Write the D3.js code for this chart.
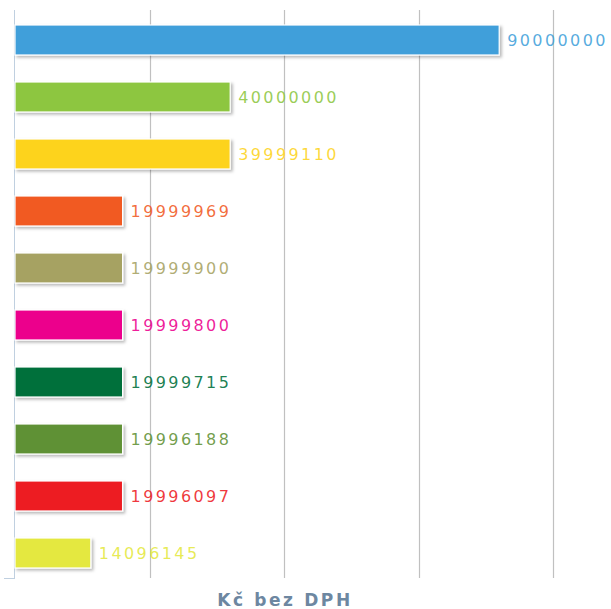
<!DOCTYPE html>
<html>
<head>
<meta charset="utf-8">
<script src="https://cdn.jsdelivr.net/npm/d3@7"></script>
<style>
  body { margin: 0; background: #fff; }
  svg { display: block; }
  .val { font-family: "DejaVu Sans", Verdana, sans-serif; font-size: 16px; letter-spacing: 2.4px; }
  .title { font-family: "DejaVu Sans", Verdana, sans-serif; font-size: 17px; font-weight: bold; fill: #6d87a1; letter-spacing: 2.6px; }
</style>
</head>
<body>
<script>
// bars, top to bottom
var ranks = ['1', '2', '3', '4', '5', '6', '7', '8', '9', '10'];
var values = [90000000, 40000000, 39999110, 19999969, 19999900, 19999800, 19999715, 19996188, 19996097, 14096145];
var colors = ['#419fda', '#8dc63f', '#fdd31d', '#f15a24', '#a6a262', '#ec008c', '#006f3b', '#5f9134', '#ed1c24', '#e4e840'];
var tickValues = [0, 25000000, 50000000, 75000000, 100000000];
var axisTitle = 'Kč bez DPH';

var width = 611, height = 609,
    plotTop = 10, plotBottom = 578;

var svg = d3.select('body').append('svg')
    .attr('width', width)
    .attr('height', height);

var defs = svg.append('defs');
var shadow = defs.append('filter')
    .attr('id', 'shadow')
    .attr('x', '-10%').attr('y', '-30%')
    .attr('width', '130%').attr('height', '180%');
shadow.append('feDropShadow')
    .attr('dx', 2).attr('dy', 2)
    .attr('stdDeviation', 1.4)
    .attr('flood-color', '#000')
    .attr('flood-opacity', 0.28);

var x = d3.scaleLinear()
    .domain([0, 100000000])
    .range([15, 553]);

var y = d3.scaleBand()
    .domain(ranks)
    .range([11.5, 581.5]);

var barH = 30;

// vertical grid lines
svg.append('g').attr('class', 'grid')
    .selectAll('line')
    .data(tickValues.slice(1))
    .enter().append('line')
    .attr('x1', function(d) { return Math.round(x(d)) + 0.5; })
    .attr('x2', function(d) { return Math.round(x(d)) + 0.5; })
    .attr('y1', plotTop)
    .attr('y2', plotBottom)
    .attr('stroke', '#c0c0c0')
    .attr('stroke-width', 1.2);

// value axis line (left) + small tick at bottom
svg.append('line')
    .attr('x1', x(0) - 0.5).attr('x2', x(0) - 0.5)
    .attr('y1', plotTop).attr('y2', plotBottom + 1)
    .attr('stroke', '#c0d0e0');
svg.append('line')
    .attr('x1', 4).attr('x2', x(0))
    .attr('y1', plotBottom + 0.5).attr('y2', plotBottom + 0.5)
    .attr('stroke', '#c0d0e0');

// bars
svg.append('g').attr('class', 'bars')
    .selectAll('rect')
    .data(values)
    .enter().append('rect')
    .attr('x', x(0))
    .attr('y', function(d, i) { return y(ranks[i]) + y.bandwidth() / 2 - barH / 2; })
    .attr('width', function(d) { return x(d) - x(0); })
    .attr('height', barH)
    .attr('fill', function(d, i) { return colors[i]; })
    .attr('stroke', '#fff')
    .attr('stroke-width', 1.2)
    .attr('filter', 'url(#shadow)');

// value labels
svg.append('g').attr('class', 'labels')
    .selectAll('text')
    .data(values)
    .enter().append('text')
    .attr('class', 'val')
    .attr('x', function(d) { return x(d) + 8; })
    .attr('y', function(d, i) { return y(ranks[i]) + y.bandwidth() / 2; })
    .attr('dy', '0.36em')
    .attr('fill', function(d, i) { return colors[i]; })
    .attr('fill-opacity', 0.88)
    .text(function(d) { return d; });

// axis title
svg.append('text')
    .attr('class', 'title')
    .attr('x', 285)
    .attr('y', 606)
    .attr('text-anchor', 'middle')
    .text(axisTitle);
</script>
</body>
</html>
